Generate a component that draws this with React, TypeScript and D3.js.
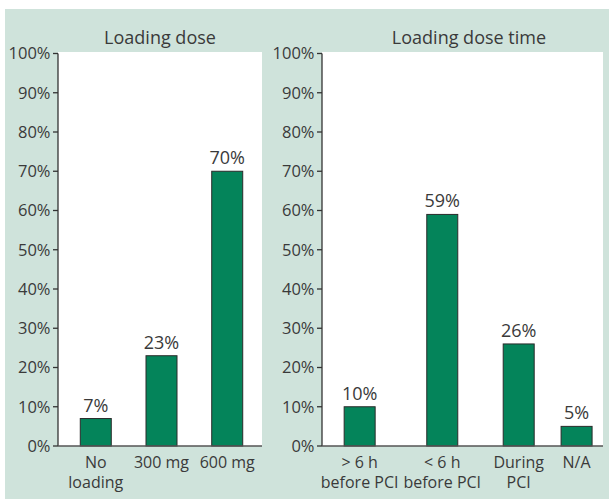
import React from "react";
import * as d3 from "d3";

// Loading dose panel
const doseCategories = ["No\nloading", "300 mg", "600 mg"];
const doseValues = [7, 23, 70];

// Loading dose time panel
const timeCategories = ["> 6 h\nbefore PCI", "< 6 h\nbefore PCI", "During\nPCI", "N/A"];
const timeValues = [10, 59, 26, 5];

const yTicks = [0, 10, 20, 30, 40, 50, 60, 70, 80, 90, 100];

const W = 609;
const H = 499;
const FONT = "'Open Sans', 'Noto Sans', sans-serif";
const TEXT = "#3a3a3a";
const PANEL_BG = "#cfe3db";
const BAR_FILL = "#04845a";
const BAR_STROKE = "#2b2b2b";

const plotTop = 52;
const plotBottom = 446;
const barWidth = 31;

// horizontal placement of the time-panel slots (fraction of plot width)
const timeSlots = [0.134, 0.428, 0.7, 0.906];

const y = d3.scaleLinear().domain([0, 100]).range([plotBottom, 53.5]);

type PanelProps = {
  title: string;
  titleX: number;
  x0: number;
  x1: number;
  categories: string[];
  values: number[];
  xCenter: (c: string) => number;
};

function Panel({ title, titleX, x0, x1, categories, values, xCenter }: PanelProps) {
  return (
    <g>
      <rect x={x0} y={plotTop} width={x1 - x0} height={plotBottom - plotTop} fill="#ffffff" />
      <text x={titleX} y={44} textAnchor="middle" fontSize={18} fill={TEXT} fontFamily={FONT}>
        {title}
      </text>
      {/* y axis */}
      <line x1={x0} x2={x0} y1={y(100)} y2={plotBottom} stroke="#333" strokeWidth={1.3} />
      {yTicks.map((t) => (
        <g key={t} transform={`translate(0,${y(t)})`}>
          <line x1={x0 - 5} x2={x0} stroke="#333" strokeWidth={1.3} />
          <text
            x={x0 - 7.5}
            dy="0.35em"
            textAnchor="end"
            fontSize={16.5}
            fill={TEXT}
            fontFamily={FONT}
          >
            {`${t}%`}
          </text>
        </g>
      ))}
      {/* bars */}
      {categories.map((c, i) => {
        const cx = xCenter(c);
        const v = values[i];
        return (
          <g key={c}>
            <rect
              x={cx - barWidth / 2}
              y={y(v)}
              width={barWidth}
              height={plotBottom - y(v)}
              fill={BAR_FILL}
              stroke={BAR_STROKE}
              strokeWidth={1}
            />
            <text
              x={cx}
              y={y(v) - 7}
              textAnchor="middle"
              fontSize={18}
              fill={TEXT}
              fontFamily={FONT}
            >
              {`${v}%`}
            </text>
            {c.split("\n").map((line, k) => (
              <text
                key={k}
                x={cx}
                y={468 + k * 20}
                textAnchor="middle"
                fontSize={16}
                fill={TEXT}
                fontFamily={FONT}
              >
                {line}
              </text>
            ))}
          </g>
        );
      })}
      {/* x axis */}
      <line x1={x0} x2={x1} y1={plotBottom} y2={plotBottom} stroke="#555" strokeWidth={1.3} />
    </g>
  );
}

export default function App() {
  const leftX0 = 58;
  const leftX1 = 262;
  const rightX0 = 322;
  const rightX1 = 603;

  const xDose = d3
    .scaleBand<string>()
    .domain(doseCategories)
    .range([leftX0 + 1.5, leftX1 + 1.5])
    .paddingInner(0.528)
    .paddingOuter(0.316);

  const slot = d3.scaleLinear().domain([0, 1]).range([rightX0, rightX1]);
  const xTime = d3
    .scaleOrdinal<string, number>()
    .domain(timeCategories)
    .range(timeSlots.map((f) => slot(f)));

  return (
    <svg
      width={W}
      height={H}
      style={{ position: "absolute", left: 0, top: 0, display: "block" }}
    >
      <rect x={0} y={0} width={W} height={H} fill="#ffffff" />
      <rect x={5} y={9} width={W - 5} height={H - 9} fill={PANEL_BG} />
      <Panel
        title="Loading dose"
        titleX={(leftX0 + leftX1) / 2}
        x0={leftX0}
        x1={leftX1}
        categories={doseCategories}
        values={doseValues}
        xCenter={(c) => (xDose(c) ?? 0) + xDose.bandwidth() / 2}
      />
      <Panel
        title="Loading dose time"
        titleX={slot(0.523)}
        x0={rightX0}
        x1={rightX1}
        categories={timeCategories}
        values={timeValues}
        xCenter={(c) => xTime(c)}
      />
    </svg>
  );
}
